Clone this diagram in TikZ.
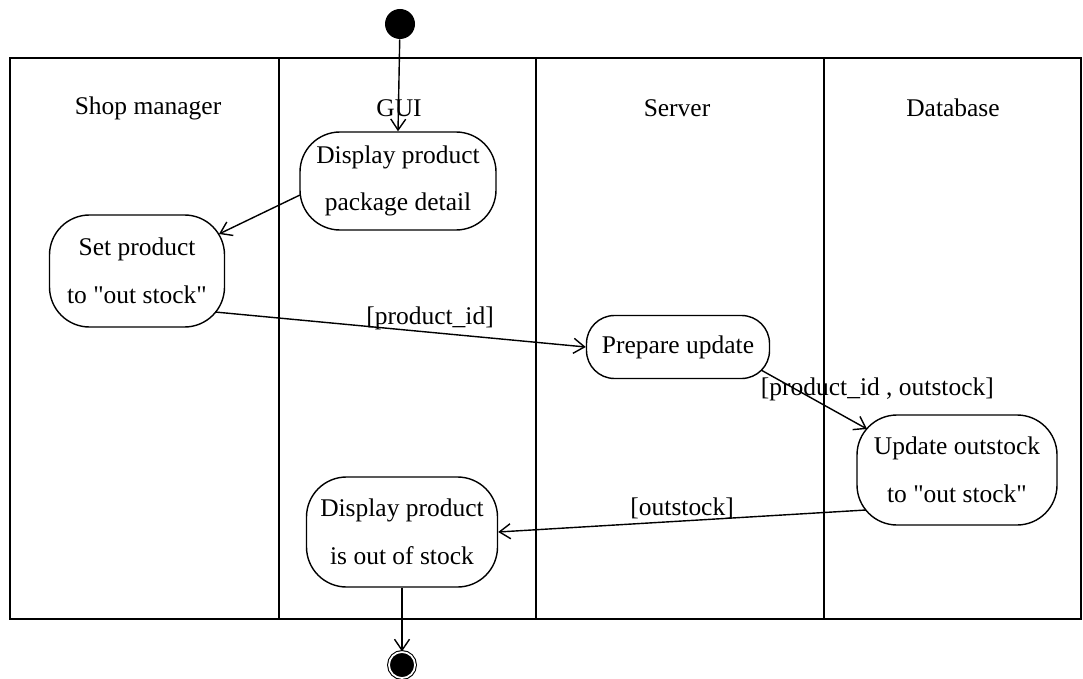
\documentclass[tikz,border=0pt]{standalone}
\usepackage{fontspec}
\setmainfont{Liberation Serif}
\usepackage{tikz}
\usetikzlibrary{positioning, arrows.meta}
\tikzset{
    activity/.style={
        draw, rectangle, rounded corners=0.8cm, line width=0.8pt,
        align=center, inner sep=2pt, font=\fontsize{14.5}{27}\selectfont
    },
    lane/.style={line width=1pt},
    lanetitle/.style={font=\fontsize{14.5}{17}\selectfont},
    startstate/.style={circle, fill=black, inner sep=0pt, minimum size=0.6cm},
    endstate/.style={circle, draw, fill=black, inner sep=0pt, minimum size=0.52cm,
        double, double distance=1pt, line width=0.6pt},
    flow/.style={-{Straight Barb[length=2.2mm, width=3mm]}, line width=0.8pt},
    guard/.style={font=\fontsize{14.5}{17}\selectfont, inner sep=1pt}
}
\newcommand{\qq}{\textquotedbl}

\begin{document}
\begin{tikzpicture}[x=0.2mm, y=-0.2mm]
    \useasboundingbox (0,0) rectangle (1083,678);
    \draw[lane] (10,58) rectangle (1081,619);
    \draw[lane] (279,58) -- (279,619);
    \draw[lane] (536,58) -- (536,619);
    \draw[lane] (824,58) -- (824,619);

    \node[lanetitle] (shop) at (148,108) {Shop manager};
    \node[lanetitle] (gui) at (399,108) {GUI};
    \node[lanetitle] (server) at (677,108) {Server};
    \node[lanetitle] (db) at (953,108) {Database};

    \node[startstate] (start) at (400,24) {};
    \node[activity, minimum width=3.92cm, minimum height=1.96cm] (showpkg) at (398,181) {Display product\\package detail};
    \node[activity, minimum width=3.5cm, minimum height=2.24cm] (setout) at (137,271) {Set product\\to \qq out stock\qq};
    \node[activity, rounded corners=0.56cm, minimum width=3.66cm, minimum height=1.26cm] (prepare) at (678,347) {Prepare update};
    \node[activity, minimum width=4cm, minimum height=2.2cm] (update) at (957,470) {Update outstock\\to \qq out stock\qq};
    \node[activity, minimum width=3.82cm, minimum height=2.2cm] (showout) at (402,532) {Display product\\is out of stock};
    \node[endstate] (finish) at (402,665) {};

    \draw[flow] (start) -- (showpkg.north);
    \draw[flow] ([shift={(-98,14)}]showpkg.center) -- ([shift={(82,-37)}]setout.center);
    \draw[flow] ([shift={(78,41)}]setout.center) -- node[guard, above, pos=0.58] {[product\_id]} (prepare.west);
    \draw[flow] ([shift={(83,23)}]prepare.center) -- node[guard, pos=0.33, anchor=west, xshift=-0.75cm] {[product\_id , outstock]} ([shift={(-90,-41)}]update.center);
    \draw[flow] ([shift={(-91,40)}]update.center) -- node[guard, above, pos=0.5] {[outstock]} (showout.east);
    \draw[flow] (showout.south) -- (finish.north);
\end{tikzpicture}
\end{document}
